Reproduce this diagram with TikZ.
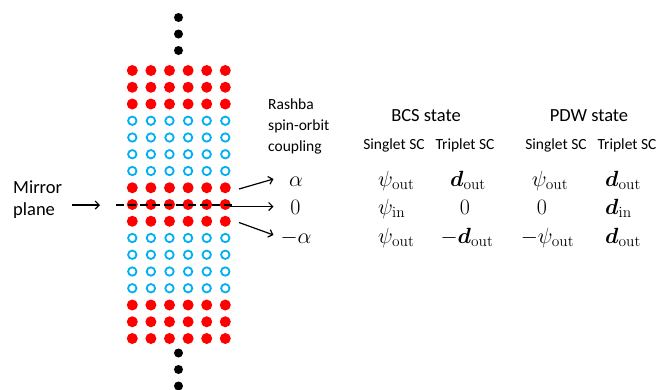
\RequirePackage{fix-cm}
\documentclass[tikz,border=0pt]{standalone}
\usepackage[no-math]{fontspec}
\setmainfont{Carlito}
\usepackage{amsmath}
\usepackage{bm}
\usetikzlibrary{arrows.meta}
\definecolor{dotred}{RGB}{255,0,0}
\definecolor{ringblue}{RGB}{0,176,240}
\newcommand{\dout}{\bm{d}_{\mathrm{out}}}
\newcommand{\din}{\bm{d}_{\mathrm{in}}}
\newcommand{\pout}{\psi_{\mathrm{out}}}
\newcommand{\pin}{\psi_{\mathrm{in}}}
\begin{document}
\begin{tikzpicture}[x=1pt,y=-1pt,
  filled/.style={fill=dotred},
  ring/.style={draw=ringblue,line width=1.8pt},
  chain/.style={fill=black},
  ptr/.style={line width=1.2pt,-{Straight Barb[length=4pt,width=8pt]}},
  mirrorline/.style={line width=1.8pt,dash pattern=on 8pt off 4pt},
  bigtxt/.style={font=\fontsize{18.5}{22}\selectfont,inner sep=0pt},
  headtxt/.style={font=\fontsize{18.5}{22}\selectfont,inner sep=0pt},
  midtxt/.style={font=\fontsize{15.5}{21}\selectfont,inner sep=0pt},
  smalltxt/.style={font=\fontsize{15.5}{17}\selectfont,inner sep=0pt},
  mathtxt/.style={font=\fontsize{22}{26}\selectfont,inner sep=0pt,anchor=base},
  mathleft/.style={mathtxt,anchor=base west}
]
\useasboundingbox (0,0) rectangle (670,389);
\fill[white] (0,0) rectangle (670,389);

% layered stack: filled (red) and open (blue) sites
\foreach \i in {0,1,2,7,8,9,14,15,16}{
  \foreach \j in {0,...,5}{
    \fill[filled] ({132.3+18.6*\j},{70.5+16.75*\i}) circle (5.5pt);
  }
}
\foreach \i in {3,4,5,6,10,11,12,13}{
  \foreach \j in {0,...,5}{
    \draw[ring] ({132.3+18.6*\j},{70.5+16.75*\i}) circle (4.2pt);
  }
}

% continuation dots above and below
\foreach \yy in {17.5,34,50.5,353,369.5,386}{
  \fill[chain] (178.5,\yy) circle (4.5pt);
}

% mirror plane
\coordinate (mL) at (116,205);
\coordinate (mR) at (234,205);
\draw[mirrorline] (mL) -- (mR);

\node[bigtxt,align=left,anchor=west] (mirror) at (13,200) {Mirror\\plane};
\coordinate (mtail) at (72,205);
\coordinate (mhead) at (100,205);
\draw[ptr] (mtail) -- (mhead);

% Rashba coupling per layer
\node[midtxt,align=left,anchor=west] (rashba) at (268,126) {Rashba\\spin-orbit\\coupling};
\node[mathtxt] (ap) at (296,186) {$\alpha$};
\node[mathtxt] (az) at (295.5,214.5) {$0$};
\node[mathtxt] (am) at (296,243) {$-\alpha$};

\coordinate (t1) at (239,189);
\coordinate (h1) at (273.5,179);
\coordinate (t2) at (230,206.5);
\coordinate (h2) at (273.5,206.5);
\coordinate (t3) at (239,222.5);
\coordinate (h3) at (273.5,235);
\draw[ptr] (t1) -- (h1);
\draw[ptr] (t2) -- (h2);
\draw[ptr] (t3) -- (h3);

% BCS state
\node[headtxt] (bcs) at (426,116) {BCS state};
\node[smalltxt] (bsing) at (394,145) {Singlet SC};
\node[smalltxt] (btrip) at (465,145) {Triplet SC};
\node[mathleft] (b11) at (378,186) {$\pout$};
\node[mathleft] (b21) at (378,214.5) {$\pin$};
\node[mathleft] (b31) at (378,243) {$\pout$};
\node[mathtxt] (b12) at (468,186) {$\dout$};
\node[mathtxt] (b22) at (465,214.5) {$0$};
\node[mathtxt] (b32) at (467,243) {$-\dout$};

% PDW state
\node[headtxt] (pdw) at (589,116) {PDW state};
\node[smalltxt] (psing) at (556,145) {Singlet SC};
\node[smalltxt] (ptrip) at (627,145) {Triplet SC};
\node[mathtxt] (p11) at (550,186) {$\pout$};
\node[mathtxt] (p21) at (542,214.5) {$0$};
\node[mathtxt] (p31) at (547.5,243) {$-\pout$};
\node[mathleft] (p12) at (605,186) {$\dout$};
\node[mathleft] (p22) at (605,214.5) {$\din$};
\node[mathleft] (p32) at (605,243) {$\dout$};
\end{tikzpicture}
\end{document}
